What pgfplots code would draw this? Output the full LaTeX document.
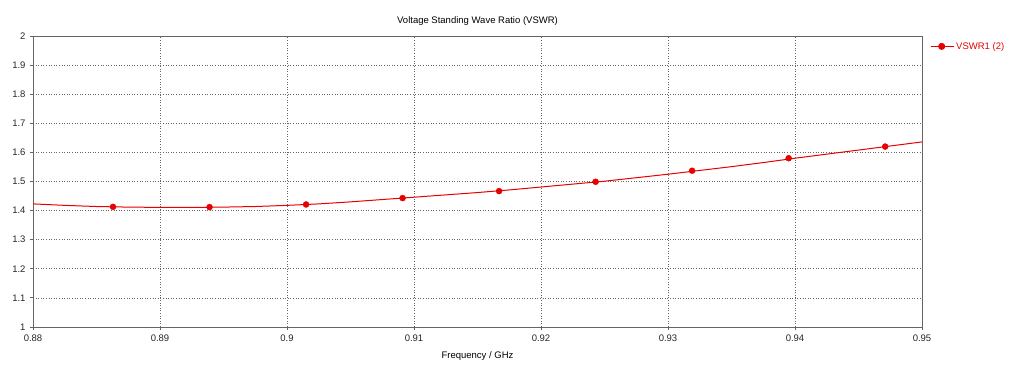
\documentclass[border=0pt]{standalone}
\usepackage{pgfplots}
\pgfplotsset{compat=1.18}
\usepackage{fontspec}
\setmainfont{Liberation Sans}
\definecolor{vswr}{RGB}{230,0,0}
\definecolor{axgray}{RGB}{100,100,100}
\definecolor{gridgray}{RGB}{100,100,100}
\begin{document}
\begin{tikzpicture}[x=1pt,y=1pt]
\useasboundingbox (0,0) rectangle (1024,366);
\begin{axis}[
  at={(33pt,39pt)}, anchor=south west,
  scale only axis, width=889pt, height=291pt,
  xmin=0.88, xmax=0.95, ymin=1, ymax=2,
  xtick={0.88,0.89,...,0.951}, ytick={1,1.1,...,2.01},
  xticklabels={0.88,0.89,0.9,0.91,0.92,0.93,0.94,0.95},
  yticklabels={1,1.1,1.2,1.3,1.4,1.5,1.6,1.7,1.8,1.9,2},
  xtick pos=bottom, ytick pos=left,
  /pgf/number format/assume math mode=true,
  tick label style={font=\fontsize{9.5}{11}\selectfont, text=black!85},
  xticklabel style={yshift=-1pt},
  yticklabel style={xshift=-1pt},
  tick align=outside, major tick length=3pt,
  tick style={axgray, line width=0.8pt},
  axis line style={axgray, line width=0.9pt},
  grid=major, major grid style={gridgray, dash pattern=on 1pt off 1.6pt, line width=0.6pt},
  xlabel={Frequency / GHz},
  xlabel style={font=\fontsize{9.5}{11}\selectfont, at={(axis description cs:0.5,0)}, anchor=north, yshift=-21pt},
  title={Voltage Standing Wave Ratio (VSWR)},
  title style={font=\fontsize{9.5}{11}\selectfont, yshift=1pt},
  legend style={at={(1,1)}, anchor=north west, xshift=5pt, yshift=-2pt, draw=none, fill=none, font=\fontsize{9.5}{11}\selectfont, text=vswr},
  legend cell align=left,
  legend image code/.code={
    \draw[vswr, line width=1pt] (0pt,0pt) -- (23pt,0pt);
    \fill[vswr] (11pt,0pt) circle (3pt);
  },
  clip=false,
]
\addplot[vswr, line width=1pt] coordinates {
(0.880,1.423)(0.8825,1.418)(0.885,1.414)(0.8875,1.412)(0.890,1.411)(0.8925,1.411)(0.895,1.412)(0.8975,1.414)
(0.900,1.418)(0.9025,1.423)(0.905,1.430)(0.9075,1.438)(0.910,1.446)(0.9125,1.454)(0.915,1.462)(0.9175,1.471)
(0.920,1.481)(0.9225,1.491)(0.925,1.501)(0.9275,1.513)(0.930,1.525)(0.9325,1.538)(0.935,1.551)(0.9375,1.565)
(0.940,1.580)(0.9425,1.594)(0.945,1.608)(0.9475,1.622)(0.950,1.636)
};
\addlegendentry{VSWR1 (2)}
\addplot[only marks, vswr, mark=*, mark size=3pt, forget plot] coordinates {
(0.8863,1.413)(0.8939,1.412)(0.9015,1.421)(0.9091,1.443)(0.9167,1.467)(0.9243,1.499)(0.9319,1.537)(0.9395,1.580)(0.9471,1.620)
};
\end{axis}
\end{tikzpicture}
\end{document}
